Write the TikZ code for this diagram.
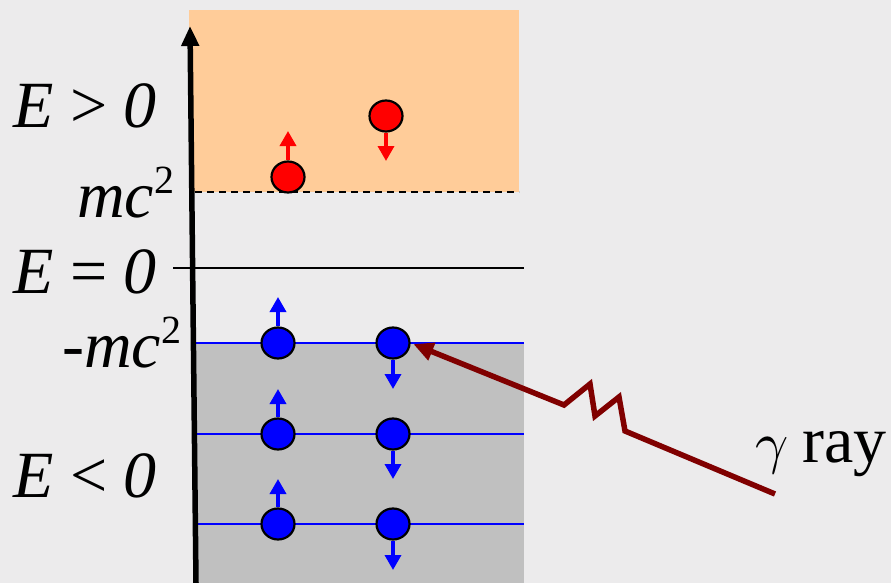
\documentclass[tikz,border=0pt]{standalone}
\usepackage{fontspec}
\setmainfont{Liberation Serif}
\usepackage{graphicx}
\usetikzlibrary{arrows.meta,shapes.geometric}
\definecolor{bgcol}{RGB}{236,235,236}
\definecolor{orangefill}{RGB}{255,204,153}
\definecolor{greyfill}{RGB}{192,192,192}
\definecolor{rayred}{RGB}{128,0,0}
\tikzset{
  lbl/.style={anchor=base west, inner sep=0pt, font=\fontsize{66}{66}\selectfont},
  bluep/.style={ellipse, draw=black, line width=2.2pt, fill=blue, minimum width=33pt, minimum height=31pt, inner sep=0pt},
  redp/.style={ellipse, draw=black, line width=2.2pt, fill=red, minimum width=33pt, minimum height=31pt, inner sep=0pt},
  spinb/.style={blue, line width=3.5pt, -{Triangle[width=16pt,length=15pt]}},
  spinr/.style={red, line width=3.5pt, -{Triangle[width=16pt,length=15pt]}},
  level/.style={blue, line width=2.2pt},
}
\newcommand{\supii}{\raisebox{0.36em}{\fontsize{40}{40}\selectfont\upshape 2}}
\begin{document}
\begin{tikzpicture}[x=1pt,y=-1pt]
\fill[bgcol] (0,0) rectangle (891,583);
\useasboundingbox (0,0) rectangle (891,583);
% regions
\fill[orangefill] (189,10) rectangle (519,192);
\fill[greyfill] (196,343) rectangle (524,583);
\draw[line width=1.8pt, dash pattern=on 7pt off 5pt] (195,192) -- (519,192);
% E=0 line
\coordinate (z0) at (173,268);
\coordinate (z1) at (524,268);
\draw[line width=1.8pt] (z0) -- (z1);
% levels
\foreach \y/\n in {343/a,434/b,524/c}{
  \coordinate (l\n0) at (196,\y);
  \coordinate (l\n1) at (524,\y);
  \draw[level] (l\n0) -- (l\n1);
}
% axis
\coordinate (ax0) at (196,583);
\coordinate (ax1) at (190,26);
\draw[line width=5.5pt, -{Triangle[width=17pt,length=20pt]}] (ax0) -- (ax1);
% blue particles
\foreach \y/\n/\up/\dn in {343/a/297/389,434/b/389/479,524/c/479/570}{
  \node[bluep] (bl\n) at (278,\y) {};
  \node[bluep] (br\n) at (393,\y) {};
  \coordinate (tu\n) at (278,\up);
  \coordinate (td\n) at (393,\dn);
  \draw[spinb] (bl\n.north) -- (tu\n);
  \draw[spinb] (br\n.south) -- (td\n);
}
% red particles
\node[redp] (r1) at (288,177) {};
\node[redp] (r2) at (386,116) {};
\coordinate (tr1) at (288,131);
\coordinate (tr2) at (386,161);
\draw[spinr] (r1.north) -- (tr1);
\draw[spinr] (r2.south) -- (tr2);
% gamma ray
\coordinate (g0) at (775,494);
\draw[rayred, line width=5.5pt, line join=miter, -{Triangle[width=18pt,length=20pt]}, shorten >=3pt]
  (g0) -- (625,431) -- (619,397) -- (595,416) -- (590,384) -- (564,405) -- (bra.east);
% labels
\node[lbl] (t1) at (13,128) {\itshape E \upshape > \itshape 0};
\node[lbl] (t2) at (77,217) {\itshape mc\supii};
\node[lbl] (t3) at (13,293) {\itshape E \upshape = \itshape 0};
\node[lbl] (t4) at (62,367) {\itshape -mc\supii};
\node[lbl] (t5) at (13,497) {\itshape E \upshape < \itshape 0};
\node[lbl] (t6) at (755,462) {\scalebox{5.8}{\fontsize{10}{12}\selectfont$\gamma$}\hspace{14pt}ray};
\end{tikzpicture}
\end{document}
